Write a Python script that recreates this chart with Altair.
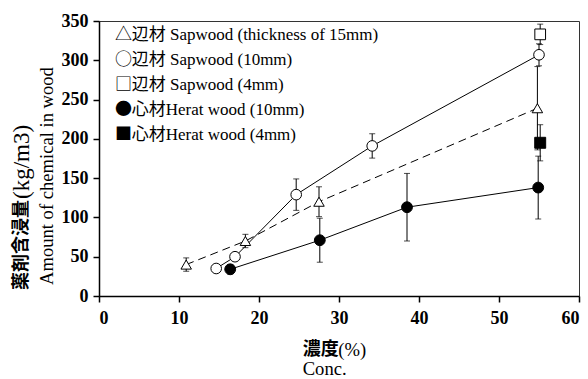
import altair as alt
import pandas as pd

# Series names (also used as legend text) and their legend glyphs
series_labels = [
    "辺材 Sapwood (thickness of 15mm)",
    "辺材 Sapwood (10mm)",
    "辺材 Sapwood (4mm)",
    "心材Herat wood (10mm)",
    "心材Herat wood (4mm)",
]
series_glyphs = ["△", "○", "□", "●", "■"]
series_shapes = ["triangle-up", "circle", "square", "circle", "square"]
series_fills = ["white", "white", "white", "black", "black"]

# Concentration (%), amount of chemical (kg/m3) and error (±)
conc_sap15 = [10.9, 18.3, 27.5, 54.8]
amount_sap15 = [40, 70, 120, 239]
err_sap15 = [8.5, 8.5, 19, 53]

conc_sap10 = [14.65, 17.0, 24.65, 34.15, 55.0]
amount_sap10 = [35, 50, 129, 191, 307]
err_sap10 = [0, 0, 20, 15.5, 14]

conc_sap4 = [55.15]
amount_sap4 = [333]
err_sap4 = [13]

conc_heart10 = [16.4, 27.6, 38.5, 54.9]
amount_heart10 = [34, 71, 113, 138]
err_heart10 = [6, 28, 43, 40]

conc_heart4 = [55.15]
amount_heart4 = [195]
err_heart4 = [23]

x_ticks = [0, 10, 20, 30, 40, 50, 60]
y_ticks = [0, 50, 100, 150, 200, 250, 300, 350]

SERIF = "Liberation Serif"
LATIN = "Liberation Serif, Noto Sans CJK JP"
CJK = "Noto Sans CJK JP"

groups = [
    (conc_sap15, amount_sap15, err_sap15),
    (conc_sap10, amount_sap10, err_sap10),
    (conc_sap4, amount_sap4, err_sap4),
    (conc_heart10, amount_heart10, err_heart10),
    (conc_heart4, amount_heart4, err_heart4),
]
rows = []
for label, (xs, ys, es) in zip(series_labels, groups):
    for x, y, e in zip(xs, ys, es):
        rows.append({"series": label, "conc": x, "amount": y, "lo": y - e, "hi": y + e})
df = pd.DataFrame(rows)

W, H = 480, 275
xscale = alt.Scale(domain=[0, 60], nice=False)
yscale = alt.Scale(domain=[0, 350], nice=False)

axis_style = dict(
    title=None, grid=False, format="d", labelOverlap=False,
    labelFont=SERIF, labelFontSize=18, labelFontWeight="bold", labelColor="black",
)
x_axis = alt.Axis(values=x_ticks, labelPadding=7, **axis_style)
y_axis = alt.Axis(values=y_ticks, labelPadding=5, **axis_style)


def xq(field):
    return alt.X(f"{field}:Q", scale=xscale, axis=x_axis)


def yq(field):
    return alt.Y(f"{field}:Q", scale=yscale, axis=y_axis)


base = alt.Chart(df)

dashed = base.transform_filter(alt.datum.series == series_labels[0]).mark_line(
    color="black", strokeWidth=1, strokeDash=[8, 5]
).encode(x=xq("conc"), y=yq("amount"), order="conc:Q")

solid = base.transform_filter(
    (alt.datum.series == series_labels[1]) | (alt.datum.series == series_labels[3])
).mark_line(color="black", strokeWidth=1).encode(
    x=xq("conc"), y=yq("amount"), detail="series:N", order="conc:Q"
)

err_rule = base.mark_rule(color="black", strokeWidth=1).encode(
    x=xq("conc"), y=yq("lo"), y2="hi:Q"
)
cap_lo = base.mark_tick(color="black", orient="horizontal", size=6, thickness=1).encode(
    x=xq("conc"), y=yq("lo")
)
cap_hi = base.mark_tick(color="black", orient="horizontal", size=6, thickness=1).encode(
    x=xq("conc"), y=yq("hi")
)

points = base.mark_point(filled=True, stroke="black", strokeWidth=1, opacity=1, fillOpacity=1).encode(
    x=xq("conc"),
    y=yq("amount"),
    shape=alt.Shape("series:N", scale=alt.Scale(domain=series_labels, range=series_shapes), legend=None),
    fill=alt.Fill("series:N", scale=alt.Scale(domain=series_labels, range=series_fills), legend=None),
    size=alt.Size("series:N", scale=alt.Scale(domain=series_labels, range=[110, 120, 115, 120, 115]), legend=None),
)

# Legend drawn as text in the upper-left of the plot (first line anchored at y)
legend_glyphs = alt.Chart().mark_text(
    font=CJK, fontSize=17, align="left", baseline="middle", lineHeight=25, color="black"
).encode(x=alt.value(16), y=alt.value(14), text=alt.value(series_glyphs))
legend_text = alt.Chart().mark_text(
    font=LATIN, fontSize=17, align="left", baseline="middle", lineHeight=25, color="black"
).encode(x=alt.value(32.7), y=alt.value(14), text=alt.value(series_labels))

# Axis titles
ytitle_jp = alt.Chart().mark_text(
    font=CJK, fontSize=18, fontWeight="bold", angle=270, align="left", baseline="middle", color="black"
).encode(x=alt.value(-77), y=alt.value(269), text=alt.value("薬剤含浸量"))
ytitle_unit = alt.Chart().mark_text(
    font=SERIF, fontSize=23, angle=270, align="left", baseline="middle", color="black"
).encode(x=alt.value(-77), y=alt.value(178), text=alt.value("(kg/m3)"))
ytitle_en = alt.Chart().mark_text(
    font=SERIF, fontSize=18.6, angle=270, align="left", baseline="middle", color="black"
).encode(x=alt.value(-52), y=alt.value(264), text=alt.value("Amount of chemical in wood"))

xtitle_jp = alt.Chart().mark_text(
    font=CJK, fontSize=18, fontWeight="bold", align="left", baseline="middle", color="black"
).encode(x=alt.value(203.7), y=alt.value(329), text=alt.value("濃度"))
xtitle_unit = alt.Chart().mark_text(
    font=SERIF, fontSize=18.6, align="left", baseline="middle", color="black"
).encode(x=alt.value(239.3), y=alt.value(329), text=alt.value("(%)"))
xtitle_en = alt.Chart().mark_text(
    font=SERIF, fontSize=18.6, align="left", baseline="middle", color="black"
).encode(x=alt.value(203.7), y=alt.value(347.5), text=alt.value("Conc."))

chart = alt.layer(
    dashed, solid, err_rule, cap_lo, cap_hi, points,
    legend_glyphs, legend_text,
    ytitle_jp, ytitle_unit, ytitle_en, xtitle_jp, xtitle_unit, xtitle_en,
).properties(
    width=W, height=H,
    autosize=alt.AutoSizeParams(type="none"),
    padding={"left": 99, "top": 21, "right": 9, "bottom": 83},
    background="white",
).configure_view(
    stroke="#333333", strokeWidth=1
).configure_axis(
    domainColor="black", domainWidth=1.5, tickColor="black", tickWidth=1.5, tickSize=6,
    labelOverlap=False, labelFont=SERIF,
)

chart.save("out.html", embed_options={"renderer": "svg", "actions": False})
